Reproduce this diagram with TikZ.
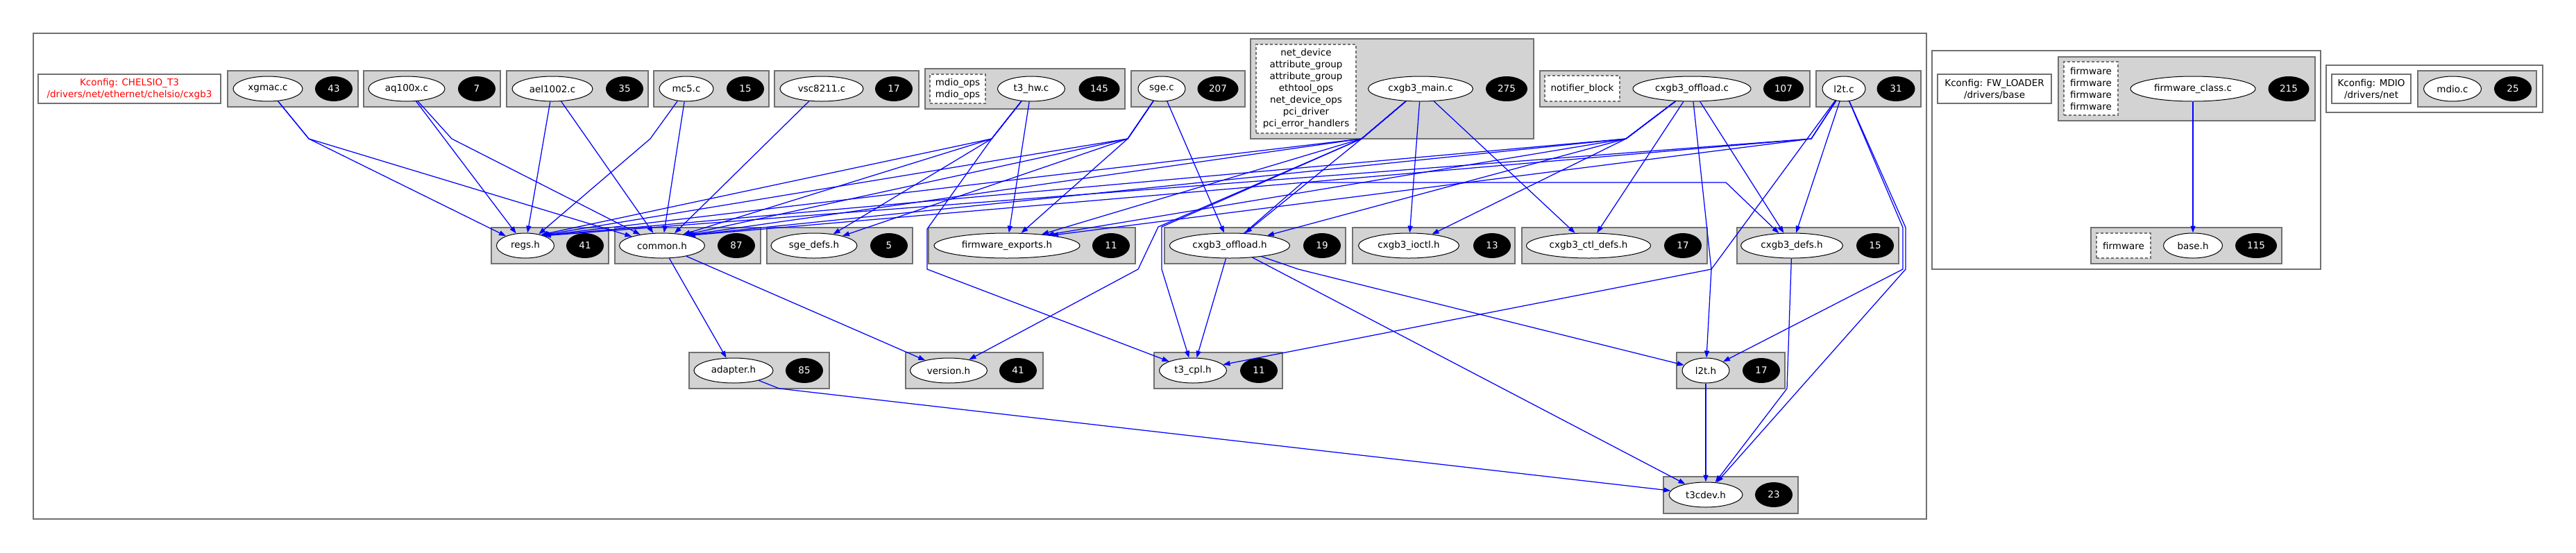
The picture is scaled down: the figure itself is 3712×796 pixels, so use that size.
\documentclass[tikz,border=0pt]{standalone}
\usepackage{fontspec}
\setmainfont{DejaVu Sans}
\usetikzlibrary{shapes.geometric,arrows.meta}
\definecolor{bgray}{RGB}{112,112,112}
\definecolor{lgray}{RGB}{211,211,211}
\definecolor{eblue}{RGB}{0,0,255}
\newcommand\ftxt{\fontsize{13.5}{17}\selectfont}
\newcommand\mkbox[7]{\node[#1, anchor=north west, minimum width={(#5-#3)*1pt}, minimum height={(#6-#4)*1pt}] (#2) at (#3,#4) {#7};}
\tikzset{
 cluster/.style={draw=bgray, line width=2pt, fill=white, outer sep=0pt, inner sep=0pt},
 kbox/.style={draw=bgray, line width=2pt, fill=white, outer sep=0pt, inner sep=0pt, align=center, font=\ftxt},
 filebox/.style={draw=bgray, line width=2pt, fill=lgray, outer sep=0pt, inner sep=0pt},
 dbox/.style={draw=bgray, line width=1.5pt, dash pattern=on 4pt off 3pt, fill=white, outer sep=0pt, inner sep=0pt, align=center, font=\ftxt},
 fnode/.style={ellipse, draw=black, line width=1pt, fill=white, inner sep=0pt, minimum height=36pt, font=\ftxt},
 cnt/.style={ellipse, fill=black, text=white, inner sep=0pt, minimum height=36pt, minimum width=54pt, font=\ftxt},
 dep/.style={draw=eblue, line width=1.25pt, -{Triangle[length=10pt,width=7pt]}},
}
\begin{document}
\begin{tikzpicture}[x=1pt,y=-1pt]
\useasboundingbox (0,0) rectangle (3712,796);
\fill[white] (0,0) rectangle (3712,796);
% clusters
\mkbox{cluster}{c1}{48}{48}{2776}{748}{}
\mkbox{cluster}{c2}{2784}{73}{3344}{388}{}
\mkbox{cluster}{c3}{3352}{94}{3664}{162}{}
\mkbox{kbox,text=red}{k1}{55}{107}{318}{149}{Kconfig: CHELSIO\_T3\\/drivers/net/ethernet/chelsio/cxgb3}
\mkbox{kbox}{k2}{2792}{107}{2956}{149}{Kconfig: FW\_LOADER\\/drivers/base}
\mkbox{kbox}{k3}{3360}{107}{3474}{149}{Kconfig: MDIO\\/drivers/net}
% row 1 boxes
\mkbox{filebox}{b-xgmac}{328}{102}{516}{154}{}
\mkbox{filebox}{b-aq}{524}{102}{721}{154}{}
\mkbox{filebox}{b-ael}{730}{102}{934}{154}{}
\mkbox{filebox}{b-mcf}{942}{102}{1108}{154}{}
\mkbox{filebox}{b-vsc}{1116}{102}{1324}{154}{}
\mkbox{filebox}{b-thw}{1333}{99}{1621}{157}{}
\mkbox{filebox}{b-sge}{1630}{102}{1794}{154}{}
\mkbox{filebox}{b-cmain}{1802}{56}{2210}{200}{}
\mkbox{filebox}{b-coffc}{2219}{102}{2608}{154}{}
\mkbox{filebox}{b-ltc}{2617}{102}{2768}{154}{}
\mkbox{filebox}{b-fwc}{2966}{82}{3336}{174}{}
\mkbox{filebox}{b-mdio}{3484}{102}{3655}{154}{}
% row 2 boxes
\mkbox{filebox}{b-regs}{708}{328}{877}{380}{}
\mkbox{filebox}{b-common}{886}{328}{1096}{380}{}
\mkbox{filebox}{b-sgedefs}{1105}{328}{1315}{380}{}
\mkbox{filebox}{b-fwexp}{1338}{328}{1636}{380}{}
\mkbox{filebox}{b-coffh}{1678}{328}{1939}{380}{}
\mkbox{filebox}{b-ioctl}{1949}{328}{2183}{380}{}
\mkbox{filebox}{b-ctldefs}{2193}{328}{2460}{380}{}
\mkbox{filebox}{b-cdefs}{2503}{328}{2736}{380}{}
\mkbox{filebox}{b-baseh}{3013}{328}{3288}{380}{}
% row 3 and 4 boxes
\mkbox{filebox}{b-adapter}{993}{508}{1195}{560}{}
\mkbox{filebox}{b-version}{1305}{508}{1503}{560}{}
\mkbox{filebox}{b-tcpl}{1663}{508}{1848}{560}{}
\mkbox{filebox}{b-lth}{2416}{508}{2572}{560}{}
\mkbox{filebox}{b-tcdev}{2397}{687}{2591}{740}{}
% dashed boxes
\mkbox{dbox}{d-thw}{1340}{107}{1420}{149}{mdio\_ops\\mdio\_ops}
\mkbox{dbox}{d-cmain}{1810}{64}{1954}{192}{net\_device\\attribute\_group\\attribute\_group\\ethtool\_ops\\net\_device\_ops\\pci\_driver\\pci\_error\_handlers}
\mkbox{dbox}{d-coffc}{2226}{109}{2334}{146}{notifier\_block}
\mkbox{dbox}{d-fwc}{2974}{89}{3052}{166}{firmware\\firmware\\firmware\\firmware}
\mkbox{dbox}{d-baseh}{3021}{336}{3099}{372}{firmware}
% row 1 nodes
\node[fnode, minimum width=100pt] (xgmac) at (386,128) {xgmac.c};
\node[cnt] (n-xgmac) at (481,128) {43};
\node[fnode, minimum width=110pt] (aq) at (586,128) {aq100x.c};
\node[cnt] (n-aq) at (687,128) {7};
\node[fnode, minimum width=116pt] (ael) at (796,128) {ael1002.c};
\node[cnt] (n-ael) at (900,128) {35};
\node[fnode, minimum width=78pt] (mcf) at (989,128) {mc5.c};
\node[cnt] (n-mcf) at (1074,128) {15};
\node[fnode, minimum width=120pt] (vsc) at (1184,128) {vsc8211.c};
\node[cnt] (n-vsc) at (1288,128) {17};
\node[fnode, minimum width=97pt] (thw) at (1486,128) {t3\_hw.c};
\node[cnt, minimum width=59pt] (n-thw) at (1584,128) {145};
\node[fnode, minimum width=68pt] (sge) at (1674,128) {sge.c};
\node[cnt, minimum width=59pt] (n-sge) at (1755,128) {207};
\node[fnode, minimum width=151pt] (cmain) at (2047,128) {cxgb3\_main.c};
\node[cnt, minimum width=60pt] (n-cmain) at (2171,128) {275};
\node[fnode, minimum width=170pt] (coffc) at (2438,128) {cxgb3\_offload.c};
\node[cnt, minimum width=58pt] (n-coffc) at (2570,128) {107};
\node[fnode, minimum width=62pt] (ltc) at (2657,128) {l2t.c};
\node[cnt, minimum width=55pt] (n-ltc) at (2732,128) {31};
\node[fnode, minimum width=180pt] (fwc) at (3160,128) {firmware\_class.c};
\node[cnt, minimum width=59pt] (n-fwc) at (3298,128) {215};
\node[fnode, minimum width=83pt] (mdio) at (3534,128) {mdio.c};
\node[cnt] (n-mdio) at (3621,128) {25};
% row 2 nodes
\node[fnode, minimum width=83pt] (regs) at (757,354) {regs.h};
\node[cnt] (n-regs) at (843,354) {41};
\node[fnode, minimum width=123pt] (common) at (954,354) {common.h};
\node[cnt] (n-common) at (1061,354) {87};
\node[fnode, minimum width=124pt] (sgedefs) at (1173,354) {sge\_defs.h};
\node[cnt] (n-sgedefs) at (1281,354) {5};
\node[fnode, minimum width=210pt] (fwexp) at (1451,354) {firmware\_exports.h};
\node[cnt] (n-fwexp) at (1601,354) {11};
\node[fnode, minimum width=173pt] (coffh) at (1772,354) {cxgb3\_offload.h};
\node[cnt] (n-coffh) at (1905,354) {19};
\node[fnode, minimum width=145pt] (ioctl) at (2030,354) {cxgb3\_ioctl.h};
\node[cnt] (n-ioctl) at (2150,354) {13};
\node[fnode, minimum width=179pt] (ctldefs) at (2289,354) {cxgb3\_ctl\_defs.h};
\node[cnt] (n-ctldefs) at (2425,354) {17};
\node[fnode, minimum width=147pt] (cdefs) at (2582,354) {cxgb3\_defs.h};
\node[cnt] (n-cdefs) at (2702,354) {15};
\node[fnode, minimum width=85pt] (baseh) at (3160,354) {base.h};
\node[cnt, minimum width=60pt] (n-baseh) at (3251,354) {115};
% row 3 and 4 nodes
\node[fnode, minimum width=114pt] (adapter) at (1057,534) {adapter.h};
\node[cnt] (n-adapter) at (1159,534) {85};
\node[fnode, minimum width=111pt] (version) at (1367,534) {version.h};
\node[cnt] (n-version) at (1467,534) {41};
\node[fnode, minimum width=97pt] (tcpl) at (1719,534) {t3\_cpl.h};
\node[cnt] (n-tcpl) at (1814,534) {11};
\node[fnode, minimum width=68pt] (lth) at (2458,534) {l2t.h};
\node[cnt] (n-lth) at (2538,534) {17};
\node[fnode, minimum width=106pt] (tcdev) at (2458,713) {t3cdev.h};
\node[cnt] (n-tcdev) at (2556,713) {23};
% bend points
\coordinate (bx) at (445,200);
\coordinate (baq) at (651,200);
\coordinate (bmc) at (937,200);
\coordinate (bthw) at (1429,200);
\coordinate (bsge) at (1625,200);
\coordinate (bmain) at (1962,200);
\coordinate (boff) at (2343,200);
\coordinate (bl2t) at (2610,200);
% edges
\draw[dep] (xgmac) -- (bx) -- (regs);
\draw[dep] (xgmac) -- (bx) -- (common);
\draw[dep] (aq) -- (regs);
\draw[dep] (aq) -- (baq) -- (common);
\draw[dep] (ael) -- (regs);
\draw[dep] (ael) -- (common);
\draw[dep] (mcf) -- (bmc) -- (regs);
\draw[dep] (mcf) -- (common);
\draw[dep] (vsc) -- (common);
\draw[dep] (thw) -- (bthw) -- (regs.35);
\draw[dep] (thw) -- (bthw) -- (common.28);
\draw[dep] (thw) -- (bthw) -- (sgedefs);
\draw[dep] (thw) -- (bthw) -- (1336,330) -- (1336,388) -- (tcpl);
\draw[dep] (thw) -- (fwexp);
\draw[dep] (sge) -- (bsge) -- (regs.32);
\draw[dep] (sge) -- (bsge) -- (common.25);
\draw[dep] (sge) -- (bsge) -- (sgedefs);
\draw[dep] (sge) -- (bsge) -- (fwexp);
\draw[dep] (sge) -- (coffh);
\draw[dep] (cmain) -- (bmain) -- (regs.30);
\draw[dep] (cmain) -- (bmain) -- (common.23);
\draw[dep] (cmain) -- (bmain) -- (fwexp.18);
\draw[dep] (cmain) -- (bmain) -- (coffh);
\draw[dep] (cmain) -- (bmain) -- (1669,327) -- (1640,388) -- (version);
\draw[dep] (cmain) -- (bmain) -- (1674,327) -- (1674,388) -- (tcpl);
\draw[dep] (cmain) -- (ioctl);
\draw[dep] (cmain) -- (ctldefs);
\draw[dep] (coffc) -- (boff) -- (regs.29);
\draw[dep] (coffc) -- (boff) -- (common.22);
\draw[dep] (coffc) -- (boff) -- (fwexp.15);
\draw[dep] (coffc) -- (boff) -- (coffh);
\draw[dep] (coffc) -- (boff) -- (ioctl);
\draw[dep] (coffc) -- (ctldefs);
\draw[dep] (coffc) -- (2466,388) -- (lth);
\draw[dep] (coffc) -- (cdefs);
\draw[dep] (ltc) -- (bl2t) -- (regs.28);
\draw[dep] (ltc) -- (bl2t) -- (common.21);
\draw[dep] (ltc) -- (bl2t) -- (fwexp.13);
\draw[dep] (ltc) -- (cdefs);
\draw[dep] (ltc) -- (2466,388) -- (tcpl);
\draw[dep] (ltc) -- (2742,328) -- (2742,388) -- (lth);
\draw[dep] (ltc) -- (2746,328) -- (2746,388) -- (tcdev);
\draw[dep] (coffh) -- (1877,263) -- (2487,263) -- (cdefs);
\draw[dep] (coffh) -- (tcpl);
\draw[dep] (coffh) -- (1871,388) -- (lth);
\draw[dep] (coffh) -- (tcdev);
\draw[dep] (common) -- (adapter);
\draw[dep] (common) -- (version);
\draw[dep] (adapter) -- (1123,560) -- (tcdev);
\draw[dep] (lth) -- (tcdev);
\draw[dep] (cdefs) -- (2575,560) -- (tcdev);
\draw[dep] (fwc) -- (baseh);
\end{tikzpicture}
\end{document}
